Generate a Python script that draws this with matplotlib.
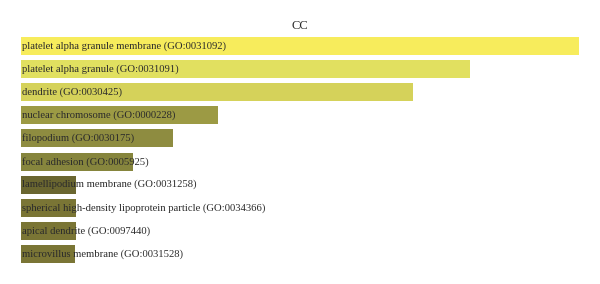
import matplotlib
matplotlib.use("Agg")
import matplotlib.pyplot as plt

TERMS = [
    "platelet alpha granule membrane (GO:0031092)",
    "platelet alpha granule (GO:0031091)",
    "dendrite (GO:0030425)",
    "nuclear chromosome (GO:0000228)",
    "filopodium (GO:0030175)",
    "focal adhesion (GO:0005925)",
    "lamellipodium membrane (GO:0031258)",
    "spherical high-density lipoprotein particle (GO:0034366)",
    "apical dendrite (GO:0097440)",
    "microvillus membrane (GO:0031528)",
]
SCORES = [10.1, 8.12, 7.1, 3.56, 2.75, 2.03, 1.0, 1.0, 1.0, 0.98]
COLORS = ["#f7ec5c", "#e1e060", "#d5d25a", "#9c9a44", "#8e8c40",
          "#86853d", "#6a6630", "#7a7535", "#7a7535", "#7a7535"]

fig = plt.figure(figsize=(6.0, 2.84), dpi=100)
ax = fig.add_axes([0.035, 0.0651, 0.93, 0.8134])

ypos = list(range(len(TERMS)))
ax.barh(ypos, SCORES, height=0.78, color=COLORS, edgecolor="none")
ax.set_xlim(0, SCORES[0])
ax.set_ylim(len(TERMS) - 0.5, -0.5)

for y, term in zip(ypos, TERMS):
    ax.text(0.02, y, term, ha="left", va="center", fontsize=7.7,
            color="#2b2b2b", family="Liberation Serif")

ax.axis("off")
fig.text(0.5, 0.908, "CC", ha="center", va="center", fontsize=9,
         color="#2b2b2b", family="Liberation Serif")

fig.savefig("out.png", dpi=100)
